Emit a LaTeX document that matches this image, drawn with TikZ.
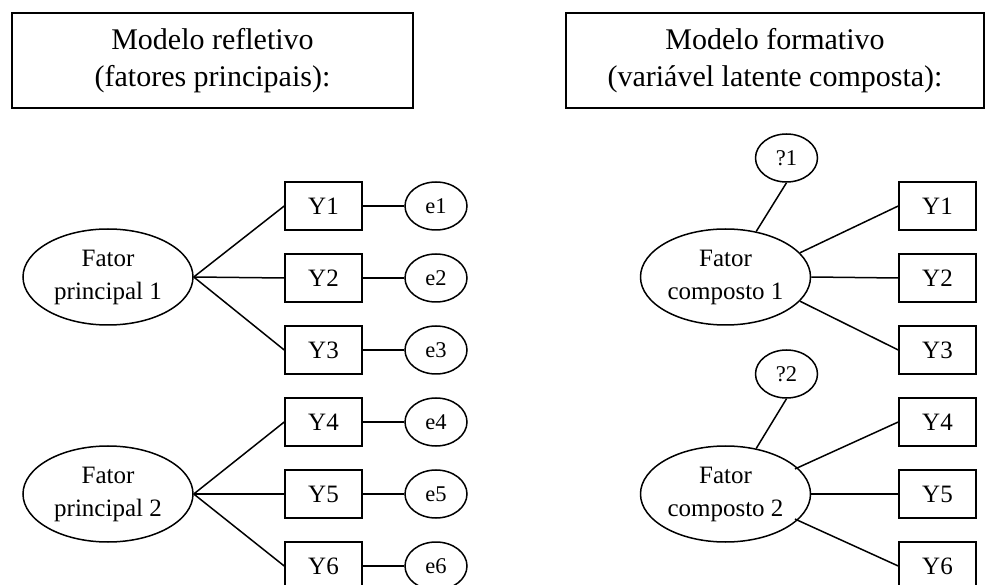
\documentclass[tikz,border=0pt]{standalone}
\usepackage{fontspec}
\setmainfont{Liberation Serif}
\usetikzlibrary{shapes.geometric}

\begin{document}
\begin{tikzpicture}[x=1pt,y=-1pt,
  line width=1.5pt,
  titlebox/.style={draw, rectangle, align=center, inner sep=0pt,
    font=\fontsize{30}{37}\selectfont},
  factor/.style={draw, ellipse, align=center, inner sep=0pt,
    minimum width=170pt, minimum height=96pt,
    font=\fontsize{25}{33}\selectfont},
  indicator/.style={draw, rectangle, inner sep=0pt,
    minimum width=77pt, minimum height=48pt,
    font=\fontsize{25}{30}\selectfont},
  errterm/.style={draw, ellipse, inner sep=0pt,
    minimum width=62pt, minimum height=48pt,
    font=\fontsize{22.5}{26}\selectfont},
  link/.style={draw, line width=1.5pt}
]
\useasboundingbox (0,0) rectangle (986,585);

% titles
\node[titlebox, minimum width=401pt, minimum height=95pt] (tl) at (212.5,60.5)
  {Modelo refletivo\\(fatores principais):};
\node[titlebox, minimum width=418pt, minimum height=95pt] (tr) at (775,60.5)
  {Modelo formativo\\(variável latente composta):};

% reflective model
\node[factor] (f1) at (108,277) {Fator\\principal 1};
\node[factor] (f2) at (108,494) {Fator\\principal 2};
\foreach \i/\y in {1/206,2/278,3/350,4/422,5/494,6/566} {
  \node[indicator] (ly\i) at (323.5,\y) {Y\i};
  \node[errterm] (e\i) at (436,\y) {e\i};
  \draw[link] (ly\i.east) -- (e\i.west);
}
\foreach \i in {1,2,3} \draw[link] (f1.east) -- (ly\i.west);
\foreach \i in {4,5,6} \draw[link] (f2.east) -- (ly\i.west);

% formative model
\node[factor] (c1) at (725.5,277) {Fator\\composto 1};
\node[factor] (c2) at (725.5,494) {Fator\\composto 2};
\node[errterm] (q1) at (786.5,158) {?1};
\node[errterm] (q2) at (786.5,374) {?2};
\foreach \i/\y in {1/206,2/278,3/350,4/422,5/494,6/566}
  \node[indicator] (ry\i) at (937.5,\y) {Y\i};

\draw[link] (q1.south) -- (c1.56);
\draw[link] (q2.south) -- (c2.56);
\draw[link] (c1.18) -- (ry1.west);
\draw[link] (c1.east) -- (ry2.west);
\draw[link] (c1.-18) -- (ry3.west);
\draw[link,shorten <=-3pt] (c2.20) -- (ry4.west);
\draw[link] (c2.east) -- (ry5.west);
\draw[link,shorten <=-3pt] (c2.-20) -- (ry6.west);
\end{tikzpicture}
\end{document}
